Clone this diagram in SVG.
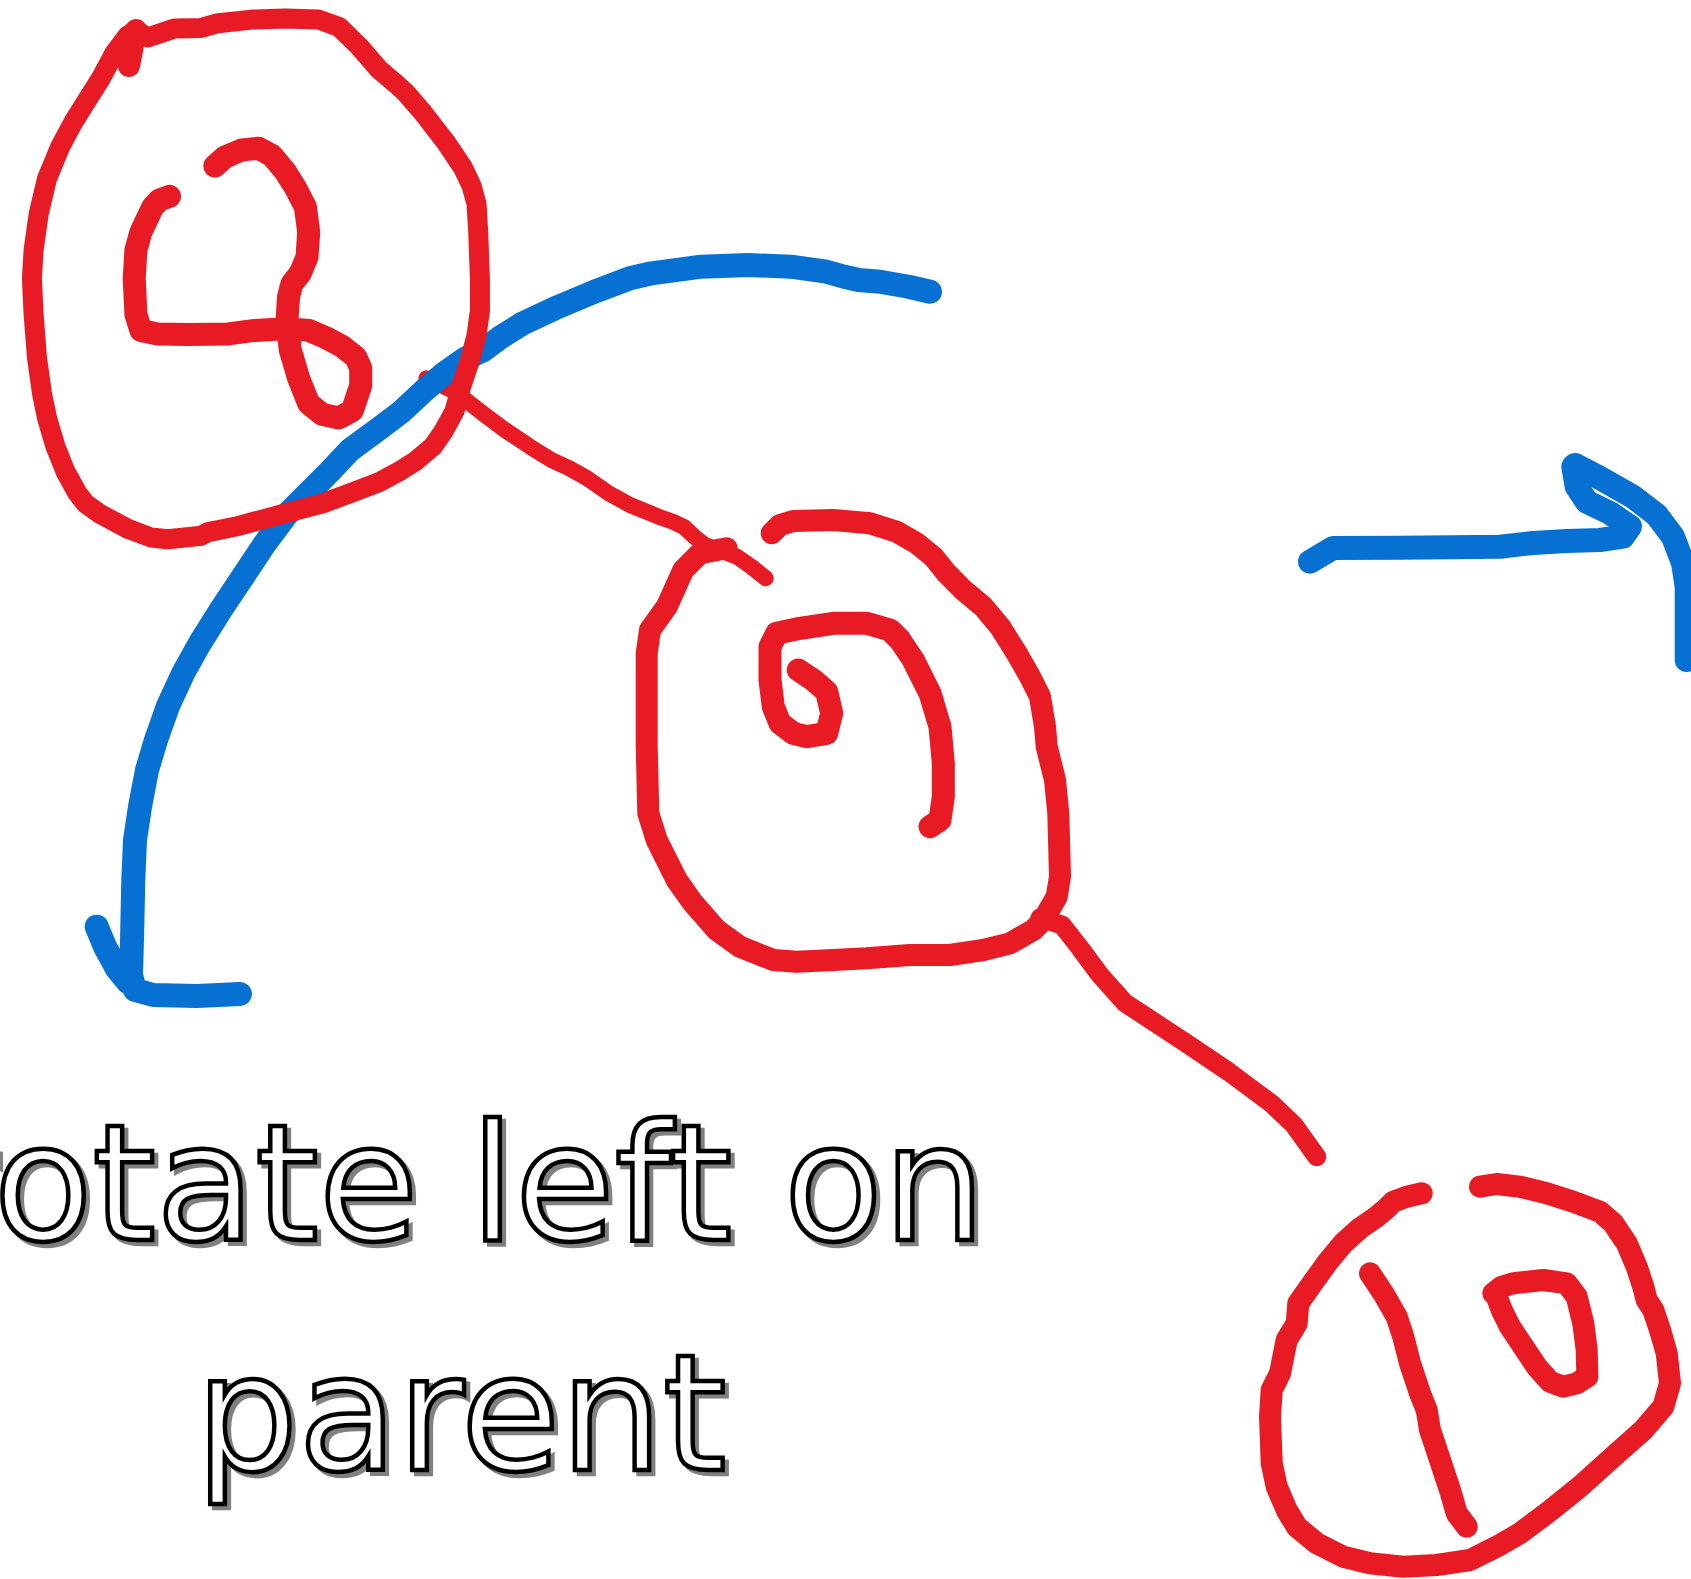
<svg xmlns="http://www.w3.org/2000/svg" width="1691" height="1579" viewBox="0 0 1691 1579">
<style>
.r{fill:none;stroke:#E81B24;stroke-width:22;stroke-linecap:round;stroke-linejoin:round}
.ri{stroke-width:23}
.rt{fill:none;stroke:#E81B24;stroke-width:16;stroke-linecap:round;stroke-linejoin:round}
.b{fill:none;stroke:#0671D3;stroke-width:24;stroke-linecap:round;stroke-linejoin:round}
.lbl{font-family:"DejaVu Sans","Open Sans",sans-serif;font-size:162px;text-anchor:middle}
.sh{fill:#808080;stroke:#808080;stroke-width:4.5}
.fg{fill:#ffffff;stroke:#000000;stroke-width:4.5}
</style>
<rect width="1691" height="1579" fill="#ffffff"/>
<g id="connectors">
<polyline class="rt" points="426.4,378.3 451.4,390 465.7,400 487.1,416.7 505,430 530,446.7 551.4,460 569.3,468.3 587.1,478.3 608.6,493.3 630,505 658.6,516.7 672.9,521.7 683.6,526.7 694.3,536.7 705,545 719.3,550 737.1,556.7 751.4,566.7 765.7,578.3"/>
<polyline class="rt" style="stroke-width:19" points="1040,918 1062,925 1080,948 1100,975 1125,1003 1148,1018 1186,1043 1229,1072 1272,1104 1294,1125 1316.7,1156.7"/>
<polyline class="b" points="930,291.7 908.6,286.7 880,281.7 858.6,280 844.3,276.7 826.4,271.7 790.7,266.7 747.9,265 701.4,266.7 651.4,273.3 630,278.3 594.3,291.7 558.6,306.7 522.9,323.3 501.4,336.7 483.6,350 465.7,358.3 444.3,373.3 422.9,391.7 401.4,411.7 380,428 350,450 328.9,472.4 307.4,494 285.8,515.5 264.2,544.6 242.7,577 221.1,609.4 200,643 183.3,673 168,706 156,740 147,770 140,806.7 135,840 133.3,880 132,940 131,975 135,990 153.3,995 196.7,996 240,994"/>
<polyline class="b" points="96.7,926.7 105,946.7 116.7,968.3 128,982"/>
<polyline class="b" points="1310,561.7 1333,548 1400,547.7 1500,546.7 1533,543 1566.7,541 1600,540 1623,536.7 1630,526.7 1610,513 1586.7,501.7 1576.7,486.7 1573.3,466.7"/>
<polyline class="b" points="1575,465 1600,478 1633,496.7 1656.7,515 1673,536.7 1683,563 1686.7,586.7 1686.7,660"/>
</g>
<g id="node-2">
<polyline class="r" style="stroke-width:20" points="135.9,30.4 147.7,37.5 174.5,28.6 201.3,27.9 218.1,23.2 251.7,19.6 285.2,18.6 318.8,19.6 338.9,26.8 359.1,46.4 379.2,69.6 396,83.9 406,92.9 422.8,112.5 446.3,142.9 463.1,167.9 471.5,185.7 476.5,203.6 478.2,232.1 479.9,278.6 479.9,310.7 476.5,335.7 469.8,360.7 461.4,385.7 454.7,410.7 443,432.1 432.9,446.4 416.1,460.7 399.3,471.4 379.2,482.1 355.7,491.1 322.1,503.6 295.3,510.7 268.5,517.9 234.9,526.8 208.1,532.1 201.3,535.7 167.8,539.3 151,537.5 127.5,528.6 100.7,514.3 85.6,503.6 77.2,492.9 65.4,471.4 55.4,446.4 47,417.9 41.9,392.9 36.9,357.1 33.6,314.3 31.9,278.6 33.6,250 38.6,214.3 47,178.6 60.4,146.4 73.8,121.4 87.2,100 100.7,78.6 114.1,53.6 127.5,35.7 135.9,30.4"/>
<polyline class="r" points="136,30 129,66"/>
<polyline class="r ri" points="214.8,166.1 224.8,157.1 241.6,150 258.4,148.2 271.8,155.4 285.2,171.4 295.3,187.5 305.4,207.1 308.7,232.1 307,257.1 300.3,273.2 291.9,283.9 288.6,296.4 286.9,321.4 290.3,350 298.7,378.6 308.7,403.6 322.1,414.3 338.9,417.9 352.3,410.7 360.7,385.7 360.7,367.9 355.7,357.1 342.3,346.4 325.5,337.5 308.7,330.4 288.6,328.6 255,330.4 228.2,333.9 187.9,334.6 157.7,333.9 140.9,330.4 135.9,314.3 134.2,278.6 135.9,250 140.9,232.1 152.7,207.1 159.4,200 169.5,196.4"/>
</g>
<g id="node-9">
<polyline class="r" points="771.7,533.3 780,525 793.3,521 833.3,520 870,523.3 896.7,531.7 916.7,543.3 933.3,556.7 946.7,573.3 963.3,590 983.3,606.7 1000,626.7 1016.7,653.3 1030,676.7 1040,696.7 1045,726.7 1046.7,746.7 1055,780 1058.3,813.3 1060,876.7 1056.7,896.7 1043.3,920 1033.3,930 1010,943.3 983.3,950 950,955 910,955 886.7,956.7 866.7,958.3 833.3,960 796.7,961.7 773.3,960 740,946.7 716.7,930 693.3,903.3 676.7,880 656.7,840 648.3,813.3 646.7,746.7 646.7,653.3 650,630 666.7,606.7 683.3,570 700,553.3 726.7,548.3"/>
<polyline class="r ri" points="798.3,670 813.3,680 826.7,691.7 831.7,713.3 826.7,733.3 806.7,736.7 793.3,733.3 780,723.3 773.3,706.7 770,680 770,646.7 776.7,633.3 800,628.3 833.3,623.3 866.7,623.3 890,630 900,640 913.3,660 930,693.3 940,726.7 943.3,763.3 943.3,796.7 940,820 930,826.7"/>
</g>
<g id="node-10">
<polyline class="r" points="1421.7,1193.3 1406.7,1196.7 1393.3,1201.7 1386.7,1208.3 1376.7,1216.7 1360,1228.3 1343.3,1243.3 1326.7,1263.3 1310,1286.7 1298.3,1303.3 1296.7,1323.3 1286.7,1340 1283.3,1356.7 1280,1373.3 1271.7,1390 1270,1416.7 1271.7,1463.3 1276.7,1486.7 1286.7,1510 1296.7,1526.7 1316.7,1543.3 1343.3,1556.7 1370,1563.3 1403.3,1566.7 1436.7,1565 1470,1560 1496.7,1546.7 1520,1533.3 1546.7,1513.3 1580,1486.7 1613.3,1456.7 1643.3,1430 1663.3,1406.7 1670,1383.3 1666.7,1353.3 1660,1330 1653.3,1310 1646.7,1300 1643.3,1286.7 1636.7,1266.7 1626.7,1243.3 1613.3,1223.3 1600,1211.7 1573.3,1201.7 1546.7,1193.3 1520,1186.7 1496.7,1184 1480,1186.7"/>
<polyline class="r" points="1370,1273.3 1383.3,1293.3 1396.7,1316.7 1403.3,1336.7 1410,1363.3 1420,1393.3 1426.7,1410 1430,1430 1436.7,1450 1443.3,1470 1450,1490 1456.7,1513.3 1466.7,1526.7"/>
<polyline class="r" points="1493.3,1293.3 1501.7,1286.7 1513.3,1283.3 1543.3,1280 1566.7,1283.3 1576.7,1296.7 1583.3,1323.3 1586.7,1350 1587.3,1376.7 1576.7,1383.3 1563.3,1386.7 1550,1381.7 1536.7,1366.7 1523.3,1346.7 1510,1326.7 1501.7,1310 1496.7,1296.7"/>
</g>
<g id="label">
<text class="lbl sh" x="462" y="1244">rotate left on</text>
<text class="lbl fg" x="458" y="1240">rotate left on</text>
<text class="lbl sh" x="465" y="1474">parent</text>
<text class="lbl fg" x="461" y="1470">parent</text>
</g>
</svg>
